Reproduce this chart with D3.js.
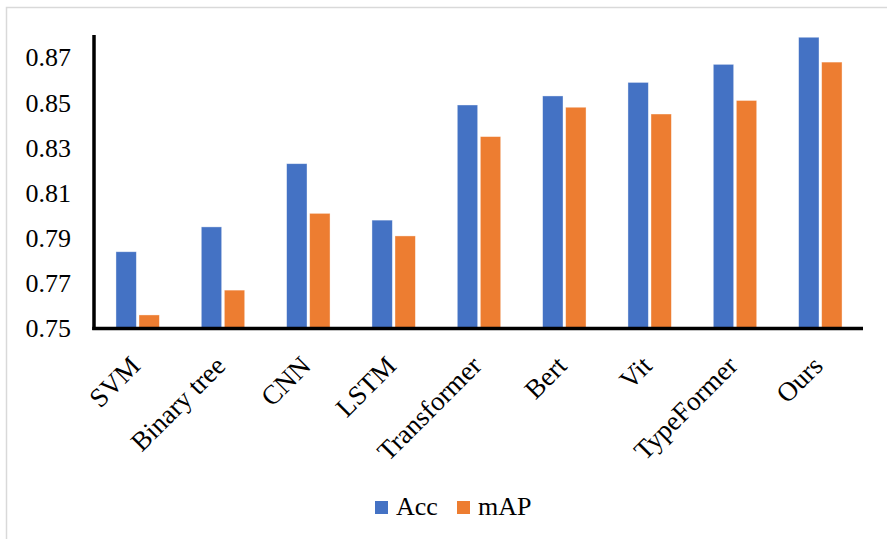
<!DOCTYPE html>
<html>
<head>
<meta charset="utf-8">
<script src="https://cdn.jsdelivr.net/npm/d3@7"></script>
<style>
  html, body { margin: 0; padding: 0; background: #fff; }
  svg { display: block; }
  text { font-family: "Liberation Serif", "Times New Roman", serif; fill: #000; }
</style>
</head>
<body>
<svg id="chart" width="887" height="539"></svg>
<script>
// Model names along the x axis
const categories = ["SVM", "Binary tree", "CNN", "LSTM", "Transformer", "Bert", "Vit", "TypeFormer", "Ours"];
// Accuracy per model
const accValues = [0.784, 0.795, 0.823, 0.798, 0.849, 0.853, 0.859, 0.867, 0.879];
// Mean average precision per model
const mapValues = [0.756, 0.767, 0.801, 0.791, 0.835, 0.848, 0.845, 0.851, 0.868];
// Y axis tick labels
const yTicks = [0.75, 0.77, 0.79, 0.81, 0.83, 0.85, 0.87];
const seriesNames = ["Acc", "mAP"];
const seriesColors = ["#4472C4", "#ED7D31"];

const svg = d3.select("#chart");

// Thin frame around the chart area
svg.append("rect")
  .attr("x", 6.5).attr("y", 7.5)
  .attr("width", 900).attr("height", 560)
  .attr("fill", "none").attr("stroke", "#d9d9d9").attr("stroke-width", 1.5);

const plot = { left: 95, right: 863, top: 35, bottom: 328.5 };

const x = d3.scaleBand().domain(categories).range([plot.left, plot.right]).paddingInner(0).paddingOuter(0);
const y = d3.scaleLinear().domain([0.75, 0.88]).range([plot.bottom, plot.top]);

const barW = x.bandwidth() * 0.225;
const gap = 5;
const xs = d3.scaleBand().domain(seriesNames).range([0, barW * 2 + gap]).paddingInner(gap / (barW * 2 + gap));
const groupOffset = (x.bandwidth() - (barW * 2 + gap)) / 2;

const rows = categories.map((c, i) => ({ cat: c, values: [accValues[i], mapValues[i]] }));

const groups = svg.append("g").selectAll("g").data(rows).join("g")
  .attr("transform", d => `translate(${x(d.cat) + groupOffset},0)`);

groups.selectAll("rect")
  .data(d => d.values.map((v, j) => ({ name: seriesNames[j], v, color: seriesColors[j] })))
  .join("rect")
  .attr("x", d => xs(d.name))
  .attr("width", xs.bandwidth())
  .attr("y", d => y(d.v))
  .attr("height", d => y(0.75) - y(d.v))
  .attr("fill", d => d.color)
  .attr("stroke", "#fff")
  .attr("stroke-opacity", 0.5)
  .attr("stroke-width", 0.75);

// Y axis: labels only, with a heavy axis line
const yAxis = d3.axisLeft(y).tickValues(yTicks).tickFormat(d3.format(".2f")).tickSize(0).tickPadding(23);
const gy = svg.append("g").attr("transform", `translate(${plot.left - 1},0)`).call(yAxis);
gy.select(".domain").remove();
gy.selectAll("text").style("font-size", "26px").style("font-family", '"Liberation Serif", serif');

svg.append("line")
  .attr("x1", plot.left - 1).attr("x2", plot.left - 1)
  .attr("y1", plot.top).attr("y2", plot.bottom + 1.5)
  .attr("stroke", "#000").attr("stroke-width", 3.5);

// X axis with rotated category labels
const xAxis = d3.axisBottom(x).tickSize(0).tickPadding(0);
const gx = svg.append("g").attr("transform", `translate(0,${plot.bottom})`).call(xAxis);
gx.select(".domain").remove();
gx.selectAll("text")
  .style("font-size", "27px")
  .style("font-family", '"Liberation Serif", serif')
  .attr("text-anchor", "end")
  .attr("dy", 0)
  .attr("transform", "translate(4,39) rotate(-45)");

svg.append("line")
  .attr("x1", plot.left - 2.75).attr("x2", plot.right)
  .attr("y1", plot.bottom).attr("y2", plot.bottom)
  .attr("stroke", "#000").attr("stroke-width", 3.5);

// Legend
const legend = svg.append("g").attr("transform", "translate(375,501)");
const legendX = [0, 82];
seriesNames.forEach((name, i) => {
  const g = legend.append("g").attr("transform", `translate(${legendX[i]},0)`);
  g.append("rect").attr("width", 13).attr("height", 13).attr("fill", seriesColors[i]);
  g.append("text").attr("x", 21).attr("y", 14).style("font-size", "26px").text(name);
});
</script>
</body>
</html>
